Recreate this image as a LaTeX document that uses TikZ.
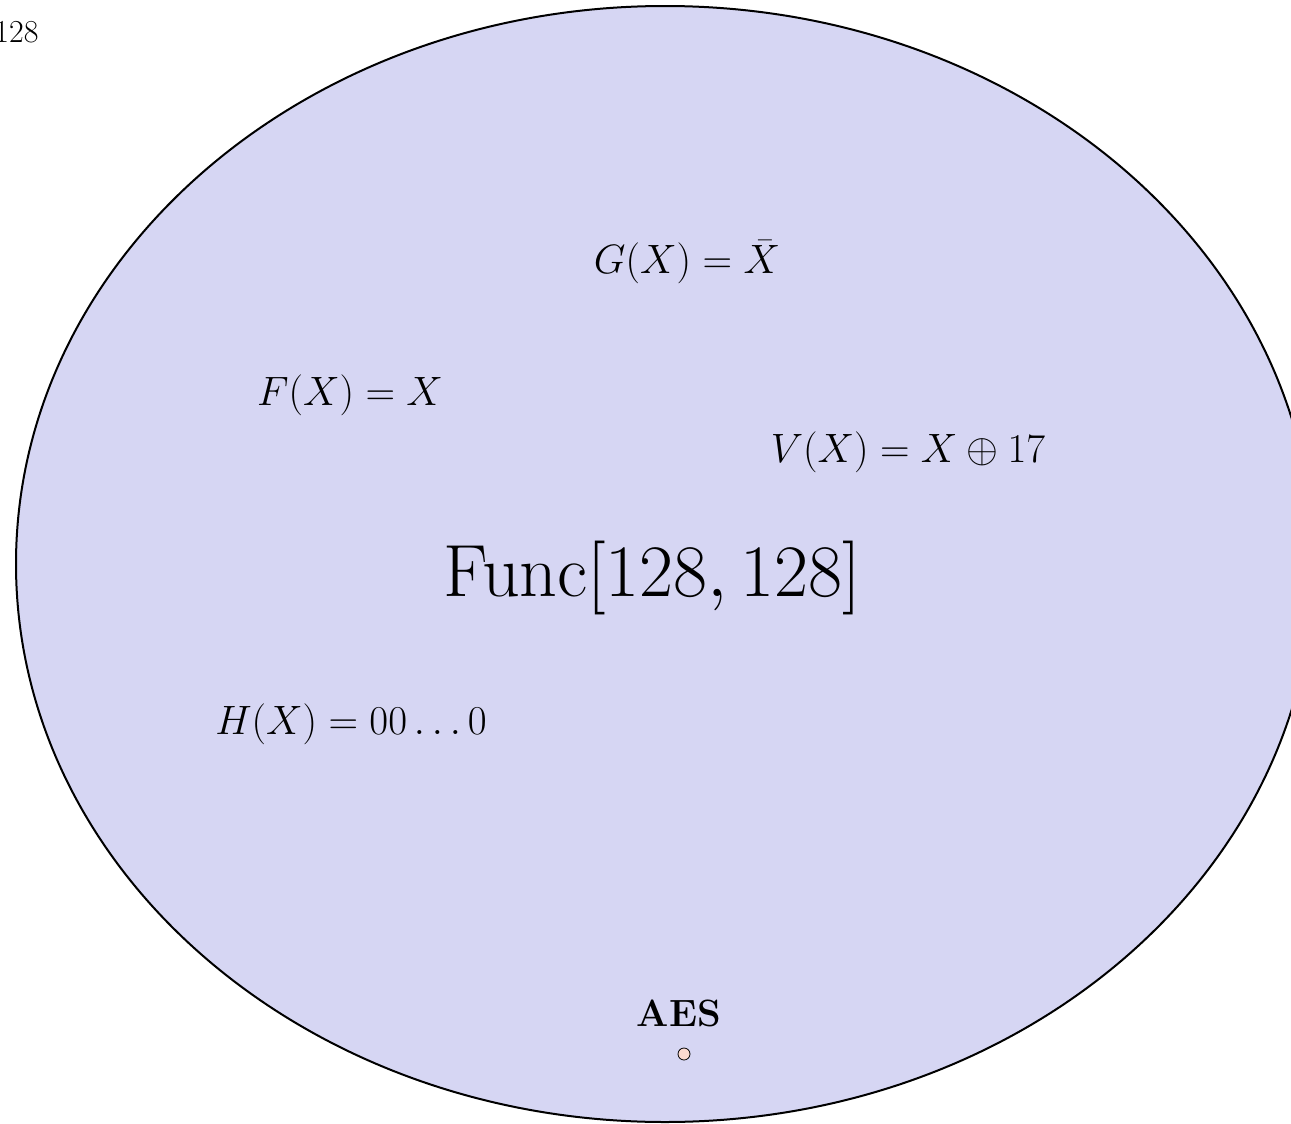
\RequirePackage{fix-cm}
\documentclass[tikz,border=0pt]{standalone}
\usepackage{amsmath}
\definecolor{funcfill}{RGB}{214,214,243}
\definecolor{dotfill}{RGB}{252,218,208}
\tikzset{
  fmap/.style={inner sep=0pt, font=\fontsize{20.5}{24}\selectfont},
  bigset/.style={inner sep=0pt, font=\fontsize{37}{44}\selectfont},
}
\begin{document}
\begin{tikzpicture}[x=0.5pt,y=-0.5pt]
  \useasboundingbox (0,0) rectangle (1291,1124);
  \filldraw[fill=funcfill,line width=1pt] (665,564) ellipse [x radius=324.5pt, y radius=279pt];
  \node[inner sep=0pt, anchor=west, font=\fontsize{16}{19}\selectfont] (corner) at (-6,32) {128};
  \node[fmap] (gmap) at (687,262) {$G(X) = \bar{X}$};
  \node[fmap] (fmap) at (350,395) {$F(X) = X$};
  \node[fmap] (vmap) at (908,452) {$V(X) = X \oplus 17$};
  \node[bigset] (func) at (652,578) {$\mathrm{Func}[128,128]$};
  \node[fmap] (hmap) at (351,724) {$H(X) = 00\ldots0$};
  \node[inner sep=0pt, font=\fontsize{19}{23}\selectfont\bfseries] (aes) at (679,1013) {AES};
  \node[circle, draw, fill=dotfill, inner sep=0pt, minimum size=6pt, line width=0.4pt] (aesdot) at (684,1054) {};
\end{tikzpicture}
\end{document}
